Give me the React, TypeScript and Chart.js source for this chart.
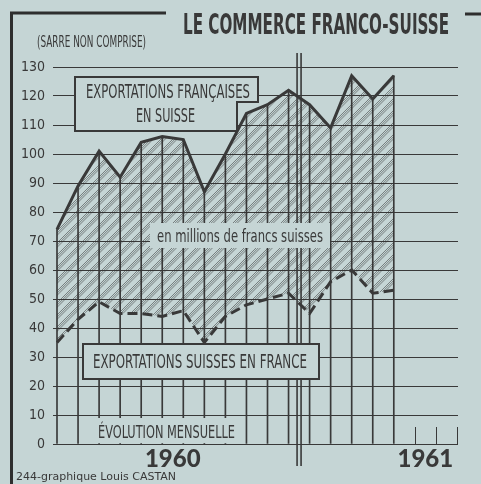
import { useEffect, useRef } from 'react';
import { Chart, registerables } from 'chart.js';

Chart.register(...registerables);

// ---- data ----
const monthLabels = [
  'janv. 1960', 'févr. 1960', 'mars 1960', 'avr. 1960', 'mai 1960', 'juin 1960',
  'juil. 1960', 'août 1960', 'sept. 1960', 'oct. 1960', 'nov. 1960', 'déc. 1960',
  'janv. 1961', 'févr. 1961', 'mars 1961', 'avr. 1961', 'mai 1961', 'juin 1961',
  'juil. 1961', 'août 1961',
];
const frExports = [74, 89, 101, 92, 104, 106, 105, 87, 100, 114, 117, 122, 117, 109, 127, 119, 127];
const chExports = [35, 43, 49, 45, 45, 44, 46, 35, 44, 48, 50, 52, 45, 56, 60, 52, 53];
const yearLabels = ['1960', '1961'];
const yearTickPositions = [5.5, 17.5];
const yMin = 0;
const yMax = 130;
const yStep = 10;

const INK = '#393939';
const BG = '#c5d5d5';
const NARROW = "'Liberation Sans Narrow', 'DejaVu Sans Condensed', sans-serif";
const COND = "'DejaVu Sans Condensed', 'DejaVu Sans', sans-serif";

function makeHatch(): CanvasPattern | string {
  const s = 12;
  const c = document.createElement('canvas');
  c.width = s;
  c.height = s;
  const g = c.getContext('2d');
  if (!g) return 'rgba(0,0,0,0.2)';
  g.strokeStyle = 'rgba(50,50,50,0.7)';
  g.lineWidth = 0.75;
  for (const off of [0, 2.2, 4.4]) {
    for (const k of [-1, 0, 1, 2]) {
      const cst = k * s + off;
      g.beginPath();
      g.moveTo(cst + 2, -2);
      g.lineTo(cst - s - 2, s + 2);
      g.stroke();
    }
  }
  const p = g.createPattern(c, 'repeat');
  return p || 'rgba(0,0,0,0.2)';
}

function drawFit(
  ctx: CanvasRenderingContext2D,
  text: string,
  x: number,
  baseline: number,
  width: number,
  font: string,
  align: 'center' | 'left' = 'center'
) {
  ctx.save();
  ctx.font = font;
  ctx.fillStyle = INK;
  ctx.textBaseline = 'alphabetic';
  ctx.textAlign = 'left';
  const w = ctx.measureText(text).width;
  const sx = width / w;
  const left = align === 'center' ? x - width / 2 : x;
  ctx.translate(left, baseline);
  ctx.scale(sx, 1);
  ctx.fillText(text, 0, 0);
  ctx.restore();
}

const decorPlugin = {
  id: 'decor',
  beforeDatasetsDraw(chart: any) {
    const ctx: CanvasRenderingContext2D = chart.ctx;
    // box: EXPORTATIONS FRANÇAISES EN SUISSE
    ctx.save();
    ctx.beginPath();
    ctx.moveTo(75, 77);
    ctx.lineTo(258, 77);
    ctx.lineTo(258, 102);
    ctx.lineTo(237, 102);
    ctx.lineTo(237, 131);
    ctx.lineTo(75, 131);
    ctx.closePath();
    ctx.fillStyle = BG;
    ctx.fill();
    ctx.lineWidth = 2;
    ctx.strokeStyle = INK;
    ctx.stroke();
    ctx.restore();
    drawFit(ctx, 'EXPORTATIONS FRANÇAISES', 168, 98, 164, `19px ${COND}`);
    drawFit(ctx, 'EN SUISSE', 165.5, 122, 59, `19px ${COND}`);
  },
  afterDatasetsDraw(chart: any) {
    const ctx: CanvasRenderingContext2D = chart.ctx;
    const xs = chart.scales.x;
    const area = chart.chartArea;
    ctx.save();
    ctx.strokeStyle = INK;
    // stubs for months without data
    ctx.lineWidth = 1;
    for (let i = frExports.length; i < monthLabels.length; i++) {
      const x = Math.round(xs.getPixelForValue(i)) + 0.5;
      ctx.beginPath();
      ctx.moveTo(x, area.bottom);
      ctx.lineTo(x, area.bottom - 17);
      ctx.stroke();
    }
    // year separator (between Dec 1960 and Jan 1961)
    const sep = xs.getPixelForValue(11.5);
    ctx.lineWidth = 1.6;
    for (const dx of [-2, 2]) {
      ctx.beginPath();
      ctx.moveTo(sep + dx, 53);
      ctx.lineTo(sep + dx, 466);
      ctx.stroke();
    }
    ctx.restore();

    // unit label
    ctx.save();
    ctx.fillStyle = BG;
    ctx.fillRect(150, 223, 180, 25);
    ctx.restore();
    drawFit(ctx, 'en millions de francs suisses', 240, 242, 166, `17px ${COND}`);

    // box: EXPORTATIONS SUISSES EN FRANCE
    ctx.save();
    ctx.fillStyle = BG;
    ctx.fillRect(83, 344, 236, 35);
    ctx.lineWidth = 2;
    ctx.strokeStyle = INK;
    ctx.strokeRect(83, 344, 236, 35);
    ctx.restore();
    drawFit(ctx, 'EXPORTATIONS SUISSES EN FRANCE', 200, 368, 214, `20px ${COND}`);

    // ÉVOLUTION MENSUELLE
    ctx.save();
    ctx.fillStyle = BG;
    ctx.fillRect(95, 418, 143, 25);
    ctx.restore();
    drawFit(ctx, 'ÉVOLUTION MENSUELLE', 166.5, 438, 137, `18px ${COND}`);
  },
  afterDraw(chart: any) {
    const ctx: CanvasRenderingContext2D = chart.ctx;
    ctx.save();
    ctx.strokeStyle = '#2e2e2e';
    ctx.lineWidth = 3;
    ctx.beginPath();
    ctx.moveTo(11.5, 484);
    ctx.lineTo(11.5, 13);
    ctx.lineTo(166, 13);
    ctx.stroke();
    ctx.beginPath();
    ctx.moveTo(465, 14);
    ctx.lineTo(481, 14);
    ctx.stroke();
    ctx.restore();
    drawFit(ctx, 'LE COMMERCE FRANCO-SUISSE', 316, 34, 266, `bold 29px ${COND}`);
    drawFit(ctx, '(SARRE NON COMPRISE)', 37, 47, 109, `15px ${COND}`, 'left');
    drawFit(ctx, '244-graphique Louis CASTAN', 16, 480, 160, "11px 'DejaVu Sans', sans-serif", 'left');
  },
};

export default function App() {
  const ref = useRef<HTMLCanvasElement | null>(null);

  useEffect(() => {
    if (!ref.current) return;
    const hatch = makeHatch();
    const chart = new Chart(ref.current, {
      type: 'line',
      data: {
        datasets: [
          {
            type: 'line',
            label: 'Exportations françaises en Suisse',
            data: frExports.map((v, i) => ({ x: i, y: v })),
            borderColor: INK,
            borderWidth: 3,
            pointRadius: 0,
            tension: 0,
            fill: '+1',
            backgroundColor: hatch as any,
            borderJoinStyle: 'miter',
            order: 1,
          },
          {
            type: 'line',
            label: 'Exportations suisses en France',
            data: chExports.map((v, i) => ({ x: i, y: v })),
            borderColor: INK,
            borderWidth: 3,
            borderDash: [10, 5],
            pointRadius: 0,
            tension: 0,
            fill: false,
            order: 0,
          },
          {
            type: 'bar',
            label: 'grille',
            data: frExports.map((v, i) => ({ x: i, y: v })),
            backgroundColor: INK,
            barThickness: 1,
            grouped: false,
            order: 2,
          } as any,
        ],
      },
      options: {
        responsive: false,
        maintainAspectRatio: false,
        animation: false,
        events: [],
        layout: { padding: { left: 10, right: 23, top: 67, bottom: 0 } },
        plugins: {
          legend: { display: false },
          title: { display: false },
          tooltip: { enabled: false },
        },
        scales: {
          x: {
            type: 'linear',
            min: -0.19,
            max: 19.05,
            offset: false,
            grid: { display: false },
            border: { display: false },
            afterBuildTicks: (s: any) => {
              s.ticks = yearTickPositions.map((v) => ({ value: v }));
            },
            afterFit: (s: any) => {
              s.height = 40;
            },
            ticks: {
              autoSkip: false,
              maxRotation: 0,
              padding: -7,
              color: INK,
              font: { family: 'Lato', weight: '900' as any, size: 24 },
              callback: (v: any) => {
                const i = yearTickPositions.indexOf(Number(v));
                return i >= 0 ? yearLabels[i] : '';
              },
            },
          },
          y: {
            min: yMin,
            max: yMax,
            afterFit: (s: any) => {
              s.width = 43;
            },
            grid: { color: INK, lineWidth: 1, drawTicks: false },
            border: { display: false },
            ticks: {
              stepSize: yStep,
              padding: 8,
              color: INK,
              font: { family: NARROW, size: 14 },
            },
          },
        },
      },
      plugins: [decorPlugin],
    });
    return () => chart.destroy();
  }, []);

  return (
    <div style={{ position: 'absolute', left: 0, top: 0, width: 481, height: 484, background: BG }}>
      <canvas ref={ref} width={481} height={484} style={{ display: 'block' }} />
    </div>
  );
}
